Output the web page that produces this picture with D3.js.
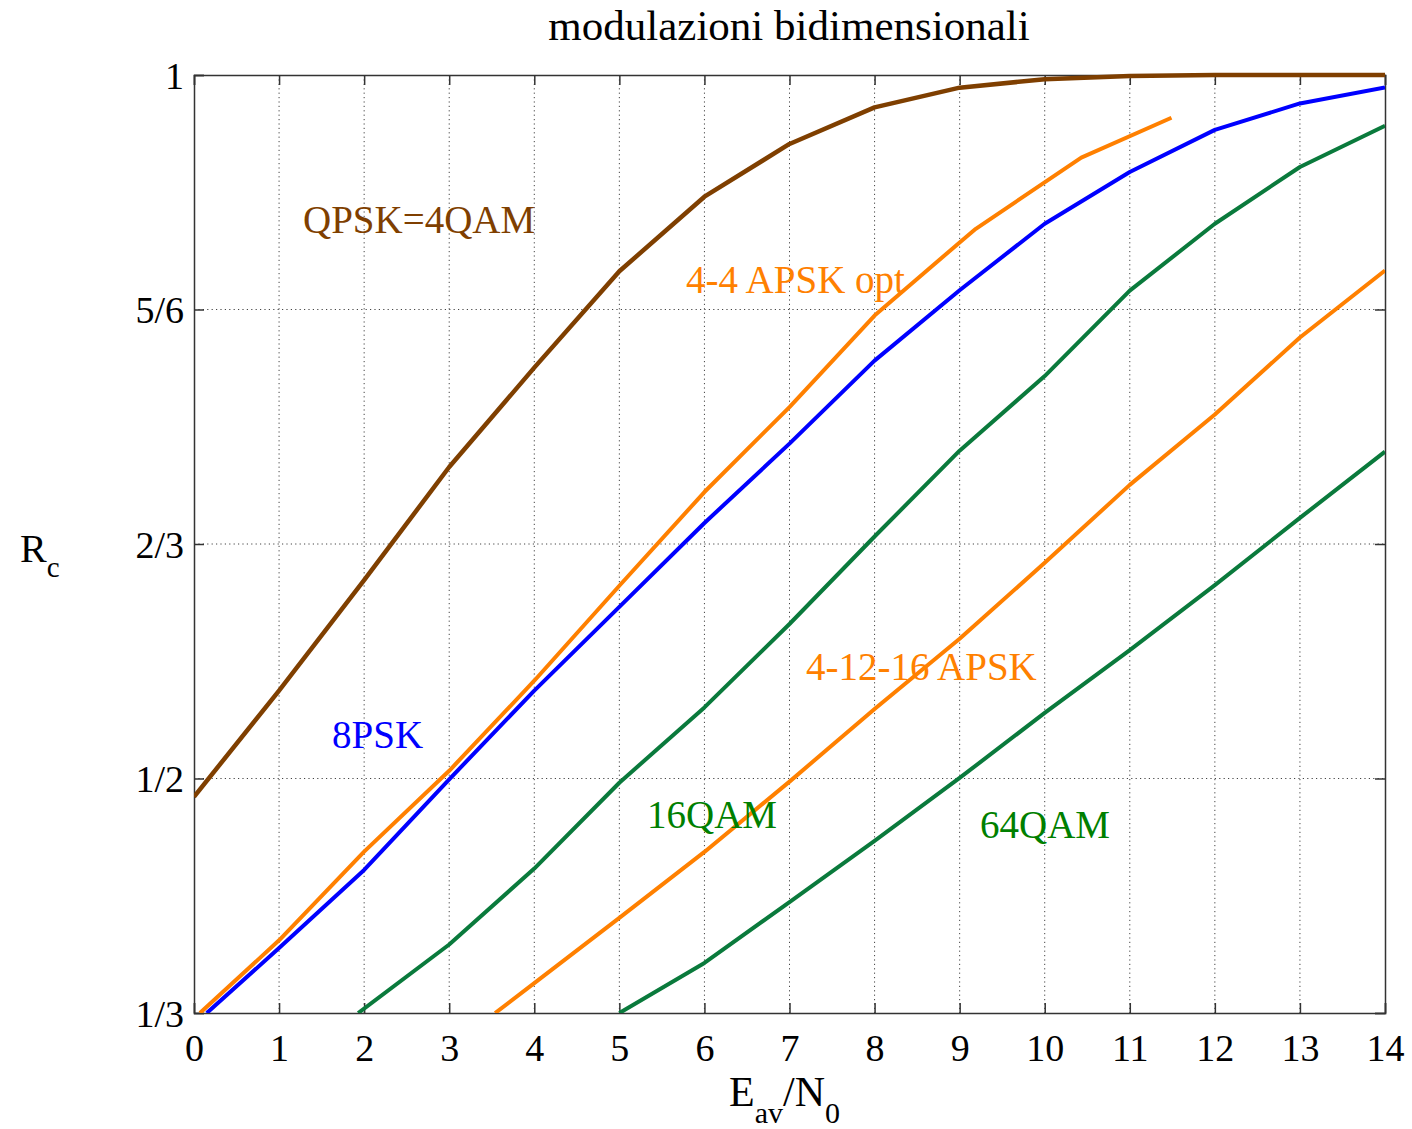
<!DOCTYPE html>
<html><head><meta charset="utf-8">
<script src="https://cdn.jsdelivr.net/npm/d3@7"></script>
<style>body{margin:0;background:#fff;} text{font-family:"Liberation Serif","Times New Roman",serif;}</style>
</head><body><svg id="c" width="1412" height="1129"></svg>
<script>
const xTicks = [0,1,2,3,4,5,6,7,8,9,10,11,12,13,14];
const yTicks = [1/3, 1/2, 2/3, 5/6, 1];
const yTickLabels = ["1/3","1/2","2/3","5/6","1"];

const qpskX = [0,1,2,3,4,5,6,7,8,9,10,11,12,13,14];
const qpskY = [0.487,0.5625,0.641,0.7214,0.792,0.8605,0.9135,0.951,0.977,0.991,0.997,0.9993,1,1,1];

const apsk44X = [0.07,1,2,3,4,5,6,7,8,9,9.19,10.43,11.49];
const apsk44Y = [0.3333,0.385,0.448,0.5055,0.5695,0.637,0.7036,0.764,0.829,0.881,0.8907,0.9413,0.9696];

const psk8X = [0.15,1,2,3,4,5,6,7,8,9,10,11,12,13,14];
const psk8Y = [0.3333,0.3795,0.435,0.4994,0.5625,0.622,0.6816,0.738,0.797,0.847,0.8943,0.931,0.961,0.9798,0.9912];

const qam16X = [1.93,3,4,5,6,7,8,9,10,11,12,13,14];
const qam16Y = [0.3333,0.382,0.436,0.497,0.5505,0.6098,0.672,0.733,0.786,0.8467,0.8943,0.9346,0.9639];

const apsk16X = [3.54,4,5,6,7,8,9,10,11,12,13,14];
const apsk16Y = [0.3333,0.3546,0.401,0.4478,0.4978,0.5494,0.5993,0.6533,0.7087,0.7587,0.8134,0.861];

const qam64X = [5.0,6,7,8,9,10,11,12,13,14];
const qam64Y = [0.3333,0.3689,0.4122,0.4556,0.5004,0.5466,0.5913,0.6375,0.6852,0.7323];

const seriesNames = ["QPSK=4QAM","4-4 APSK opt","8PSK","16QAM","4-12-16 APSK","64QAM"];

const svg = d3.select("#c");
const L=194, R=1385, T=75, B=1013;
const x = d3.scaleLinear().domain([0,14]).range([L,R]);
const y = d3.scaleLinear().domain([1/3,1]).range([B,T]);

// grid
const g = svg.append("g");
g.selectAll(".gx").data(xTicks.slice(1,-1)).enter().append("line")
  .attr("x1",d=>x(d)).attr("x2",d=>x(d)).attr("y1",T).attr("y2",B)
  .attr("stroke","#444").attr("stroke-width",1).attr("stroke-dasharray","1.2,3.2");
g.selectAll(".gy").data(yTicks.slice(1,-1)).enter().append("line")
  .attr("y1",d=>y(d)).attr("y2",d=>y(d)).attr("x1",L).attr("x2",R)
  .attr("stroke","#444").attr("stroke-width",1).attr("stroke-dasharray","1.2,3.2");

// axes
const axB = d3.axisBottom(x).tickValues(xTicks).tickSize(-10).tickPadding(21);
const axT = d3.axisTop(x).tickValues(xTicks).tickSize(-10).tickFormat("");
const axL = d3.axisLeft(y).tickValues(yTicks).tickSize(-10).tickPadding(10).tickFormat((d,i)=>yTickLabels[i]);
const axR = d3.axisRight(y).tickValues(yTicks).tickSize(-10).tickFormat("");
function style(sel){
  sel.select(".domain").attr("stroke","#333").attr("stroke-width",1.5);
  sel.selectAll(".tick line").attr("stroke","#333").attr("stroke-width",1.5);
  sel.selectAll(".tick text").attr("font-family","Liberation Serif").attr("font-size",38).attr("fill","#000");
}
svg.append("g").attr("transform",`translate(0,${B})`).call(axB).call(style);
svg.append("g").attr("transform",`translate(0,${T})`).call(axT).call(style);
svg.append("g").attr("transform",`translate(${L},0)`).call(axL).call(style)
  .selectAll(".tick text").attr("dy","0.35em");
svg.append("g").attr("transform",`translate(${R},0)`).call(axR).call(style);

// lines
const line = d3.line().x(d=>x(d[0])).y(d=>y(d[1]));
const series = [
  {xs:qpskX, ys:qpskY, c:"#7F3F00", w:4.5},
  {xs:psk8X, ys:psk8Y, c:"#0000FF", w:4},
  {xs:qam16X, ys:qam16Y, c:"#0A7A3C", w:4},
  {xs:qam64X, ys:qam64Y, c:"#0A7A3C", w:4},
  {xs:apsk44X, ys:apsk44Y, c:"#FF8000", w:4},
  {xs:apsk16X, ys:apsk16Y, c:"#FF8000", w:4},
];
svg.append("clipPath").attr("id","pc").append("rect")
  .attr("x",L).attr("y",T-3).attr("width",R-L).attr("height",B-T+3);
svg.append("g").attr("clip-path","url(#pc)").selectAll("path").data(series).enter().append("path")
  .attr("d",s=>line(s.xs.map((v,i)=>[v,s.ys[i]])))
  .attr("fill","none").attr("stroke",s=>s.c).attr("stroke-width",s=>s.w)
  .attr("stroke-linejoin","round");

// labels
const labels = [
  {t:seriesNames[0], x:303, y:233, c:"#7F3F00"},
  {t:seriesNames[1], x:686, y:293, c:"#FF8000"},
  {t:seriesNames[2], x:332, y:748, c:"#0000FF"},
  {t:seriesNames[3], x:647, y:828, c:"#007F00"},
  {t:seriesNames[4], x:806, y:680, c:"#FF8000"},
  {t:seriesNames[5], x:980, y:838, c:"#007F00"},
];
svg.selectAll(".lab").data(labels).enter().append("text")
  .attr("x",d=>d.x).attr("y",d=>d.y).attr("fill",d=>d.c)
  .attr("font-size",39).text(d=>d.t);

// title
svg.append("text").attr("x",789).attr("y",40).attr("text-anchor","middle")
  .attr("font-size",43).attr("fill","#000").text("modulazioni bidimensionali");

// y label R_c
const yl = svg.append("text").attr("x",20).attr("y",562).attr("font-size",40).attr("fill","#000");
yl.append("tspan").text("R");
yl.append("tspan").attr("font-size",29).attr("dy",15).text("c");

// x label E_av/N_0
const xl = svg.append("text").attr("x",729).attr("y",1106).attr("font-size",42).attr("fill","#000");
xl.append("tspan").text("E");
xl.append("tspan").attr("font-size",30).attr("dy",17).text("av");
xl.append("tspan").attr("dy",-17).text("/N");
xl.append("tspan").attr("font-size",30).attr("dy",17).text("0");
</script></body></html>
